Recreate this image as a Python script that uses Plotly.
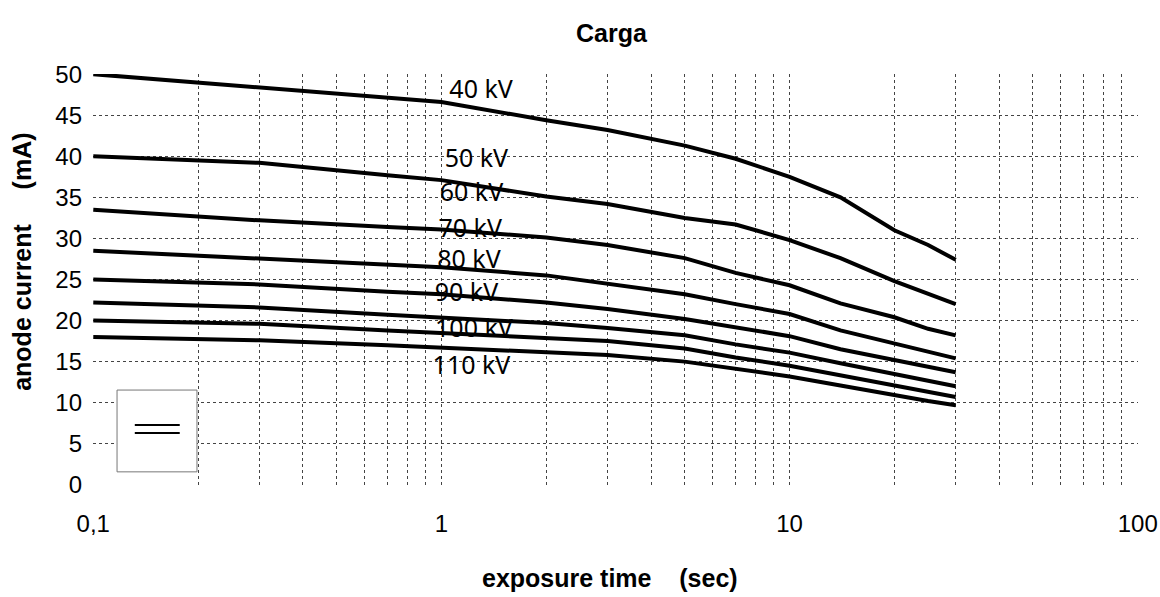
import plotly.graph_objects as go

# exposure time (s)
time_s = [0.1, 0.3, 0.7, 1, 2, 3, 5, 7, 10, 14, 20, 25, 30]

kv_labels = ["40 kV", "50 kV", "60 kV", "70 kV", "80 kV", "90 kV", "100 kV", "110 kV"]

ma_40 = [50.0, 48.4, 47.2, 46.6, 44.4, 43.2, 41.3, 39.7, 37.5, 35.0, 31.0, 29.2, 27.4]
ma_50 = [40.0, 39.2, 37.7, 37.1, 35.1, 34.2, 32.5, 31.7, 29.8, 27.6, 24.8, 23.3, 22.0]
ma_60 = [33.5, 32.2, 31.4, 31.1, 30.1, 29.2, 27.6, 25.8, 24.3, 22.1, 20.4, 19.0, 18.2]
ma_70 = [28.5, 27.6, 26.8, 26.5, 25.5, 24.5, 23.2, 22.0, 20.8, 18.8, 17.2, 16.2, 15.4]
ma_80 = [25.0, 24.4, 23.5, 23.2, 22.2, 21.4, 20.2, 19.2, 18.1, 16.5, 15.2, 14.3, 13.7]
ma_90 = [22.2, 21.6, 20.7, 20.4, 19.7, 19.1, 18.2, 17.1, 16.1, 14.8, 13.5, 12.7, 12.0]
ma_100 = [20.0, 19.6, 18.8, 18.5, 17.9, 17.5, 16.6, 15.5, 14.5, 13.3, 12.1, 11.3, 10.7]
ma_110 = [18.0, 17.6, 17.0, 16.7, 16.1, 15.8, 15.0, 14.1, 13.2, 12.1, 10.9, 10.2, 9.7]

series = [ma_40, ma_50, ma_60, ma_70, ma_80, ma_90, ma_100, ma_110]

# where the kV labels sit (data units)
label_t = [1.30, 1.26, 1.22, 1.21, 1.20, 1.18, 1.24, 1.22]
label_ma = [47.9, 39.5, 35.3, 30.9, 27.2, 23.1, 18.8, 14.3]

x_grid = [0.1, 0.2, 0.3, 0.4, 0.5, 0.6, 0.7, 0.8, 0.9,
          1, 2, 3, 4, 5, 6, 7, 8, 9,
          10, 20, 30, 40, 50, 60, 70, 80, 90, 100]
x_tick_text = {0.1: "0,1", 1: "1", 10: "10", 100: "100"}
y_ticks = [0, 5, 10, 15, 20, 25, 30, 35, 40, 45, 50]

fig = go.Figure()
for name, vals in zip(kv_labels, series):
    fig.add_trace(go.Scatter(
        x=time_s, y=vals, mode="lines", name=name,
        line=dict(color="black", width=4), showlegend=False,
    ))

fig.add_trace(go.Scatter(
    x=label_t, y=label_ma, mode="text", text=kv_labels,
    textfont=dict(family="Noto Sans, sans-serif", size=25, color="black"),
    showlegend=False, hoverinfo="skip",
))

font_ax = "Liberation Sans, Arial, sans-serif"

fig.update_layout(
    width=1160, height=597,
    paper_bgcolor="white", plot_bgcolor="white",
    margin=dict(l=93, r=22, t=74, b=112),
    font=dict(family=font_ax, color="black"),
    xaxis=dict(
        type="log", range=[-1.0008, 2.0008], automargin=False,
        tickmode="array", tickvals=x_grid,
        ticktext=[x_tick_text.get(v, "") for v in x_grid],
        showgrid=True, gridcolor="#444444", gridwidth=1, griddash="dot",
        zeroline=False, showline=False, ticks="",
        tickfont=dict(size=24, color="black"),
        ticklabelstandoff=22, ticklabeloverflow="allow",
    ),
    yaxis=dict(
        range=[-0.02, 50.02], tickmode="array", tickvals=y_ticks, automargin=False,
        showgrid=True, gridcolor="#444444", gridwidth=1, griddash="dot",
        zeroline=False, showline=False, ticks="",
        tickfont=dict(size=24, color="black"),
        ticklabelstandoff=10, ticklabeloverflow="allow",
    ),
    annotations=[
        dict(text="<b>Carga</b>", xref="paper", yref="paper", x=0.497, y=1.0,
             yanchor="middle", yshift=41, showarrow=False,
             font=dict(size=25, family=font_ax)),
        dict(text="<b>exposure time    (sec)</b>", xref="paper", yref="paper",
             x=0.495, y=0, yanchor="middle", yshift=-93, showarrow=False,
             font=dict(size=25, family=font_ax)),
        dict(text="<b>anode current     (mA)</b>", xref="paper", yref="paper",
             x=0, xanchor="center", xshift=-71, y=0.543, yanchor="middle",
             textangle=-90, showarrow=False,
             font=dict(size=25, family=font_ax)),
    ],
    shapes=[
        dict(type="rect", xref="paper", yref="paper",
             x0=0.023, x1=0.0995, y0=0.032, y1=0.231,
             line=dict(color="#777777", width=1), fillcolor="white"),
        dict(type="line", xref="paper", yref="paper",
             x0=0.040, x1=0.083, y0=0.146, y1=0.146,
             line=dict(color="black", width=2)),
        dict(type="line", xref="paper", yref="paper",
             x0=0.040, x1=0.083, y0=0.1265, y1=0.1265,
             line=dict(color="black", width=2)),
    ],
)

fig.write_html(
    "out.html",
    config={"displayModeBar": False},
    post_script="document.body.style.margin='0';document.body.style.overflow='hidden';",
)
